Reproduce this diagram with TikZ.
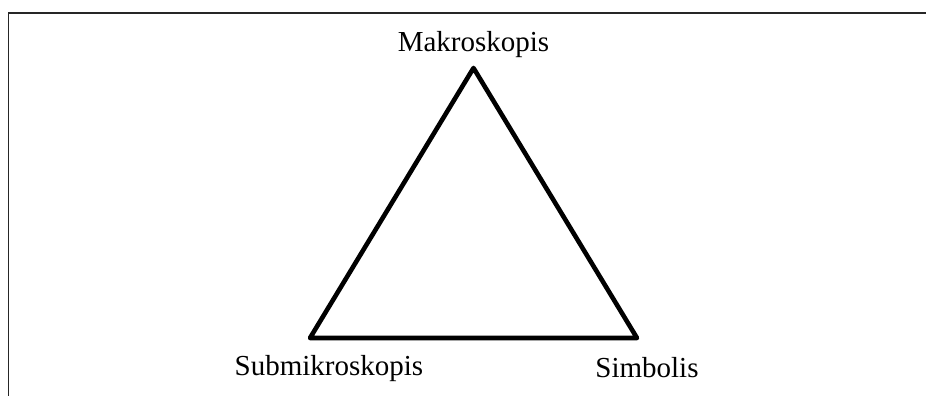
\documentclass[tikz,border=0pt]{standalone}
\usepackage{fontspec}
\setmainfont{Liberation Serif}
\usepackage{tikz}
\usetikzlibrary{positioning,calc}

\begin{document}
\begin{tikzpicture}[x=1pt, y=-1pt,
    label/.style={anchor=base, inner sep=0pt, font=\fontsize{29}{34}\selectfont}]
  \useasboundingbox (0,0) rectangle (926,396);
  % frame
  \draw[line width=1.5pt, draw=black!85] (8.5,396) -- (8.5,13) -- (926,13);
  % corners
  \coordinate (makro) at (473.5,68);
  \coordinate (submikro) at (310,338);
  \coordinate (simbol) at (637,338);
  \draw[line width=4.6pt, line join=round, line cap=round] (makro) -- (submikro) -- (simbol) -- cycle;
  \node[label] (makrolbl) at (473.5,52) {Makroskopis};
  \node[label] (submikrolbl) at (329,375) {Submikroskopis};
  \node[label] (simbollbl) at (647,377) {Simbolis};
\end{tikzpicture}
\end{document}
